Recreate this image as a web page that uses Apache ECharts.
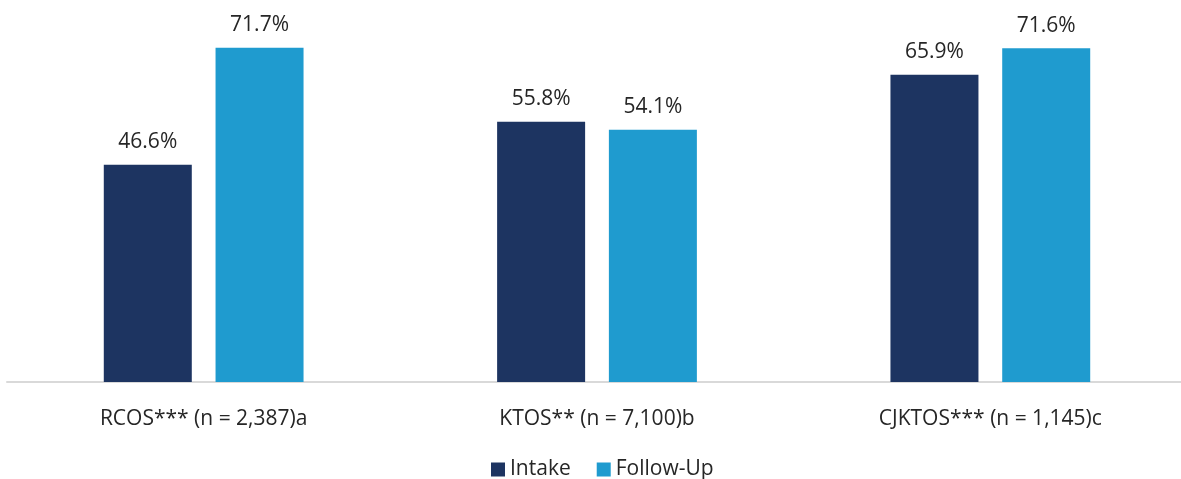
<!DOCTYPE html>
<html lang="en">
<head>
  <meta charset="UTF-8">
  <title>Intake vs Follow-Up</title>
  <script src="https://cdn.jsdelivr.net/npm/echarts@6/dist/echarts.min.js"></script>
  <style>
    html, body { margin: 0; padding: 0; background: #fff; }
  </style>
</head>
<body>
  <div id="main" style="width:1181px;height:479px"></div>
  <script>
    var categories = ['RCOS*** (n = 2,387)a', 'KTOS** (n = 7,100)b', 'CJKTOS*** (n = 1,145)c']
    var intake = [46.6, 55.8, 65.9]
    var followUp = [71.7, 54.1, 71.6]

    var font = '"Open Sans", sans-serif'
    var myChart = echarts.init(document.getElementById('main'))

    var labelStyle = {
      show: true,
      position: 'top',
      distance: 12,
      fontFamily: font,
      fontSize: 21,
      color: '#262626',
      formatter: function (p) { return p.value.toFixed(1) + '%' }
    }

    var options = {
      animation: false,
      grid: { left: 7, width: 1180, top: 9, bottom: 97, containLabel: false, outerBoundsMode: 'none' },
      legend: {
        top: 454,
        left: 486,
        itemWidth: 14,
        itemHeight: 14,
        itemGap: 26,
        itemStyle: { borderWidth: 0 },
        textStyle: { fontFamily: font, fontSize: 21, color: '#262626' },
        data: [
          { name: 'Intake', icon: 'rect' },
          { name: 'Follow-Up', icon: 'rect' }
        ]
      },
      xAxis: {
        type: 'category',
        data: categories,
        axisLine: { lineStyle: { color: '#d9d9d9', width: 2 } },
        axisTick: { show: false },
        axisLabel: { fontFamily: font, fontSize: 21, color: '#262626', margin: 27 }
      },
      yAxis: {
        type: 'value',
        min: 0,
        max: 80,
        show: false,
        splitLine: { show: false }
      },
      series: [
        {
          name: 'Intake',
          type: 'bar',
          data: intake,
          barWidth: 88,
          barGap: '27%',
          itemStyle: { color: '#1d3461' },
          label: labelStyle
        },
        {
          name: 'Follow-Up',
          type: 'bar',
          data: followUp,
          barWidth: 88,
          itemStyle: { color: '#1f9bcf' },
          label: labelStyle
        }
      ]
    }

    myChart.setOption(options)
  </script>
</body>
</html>
